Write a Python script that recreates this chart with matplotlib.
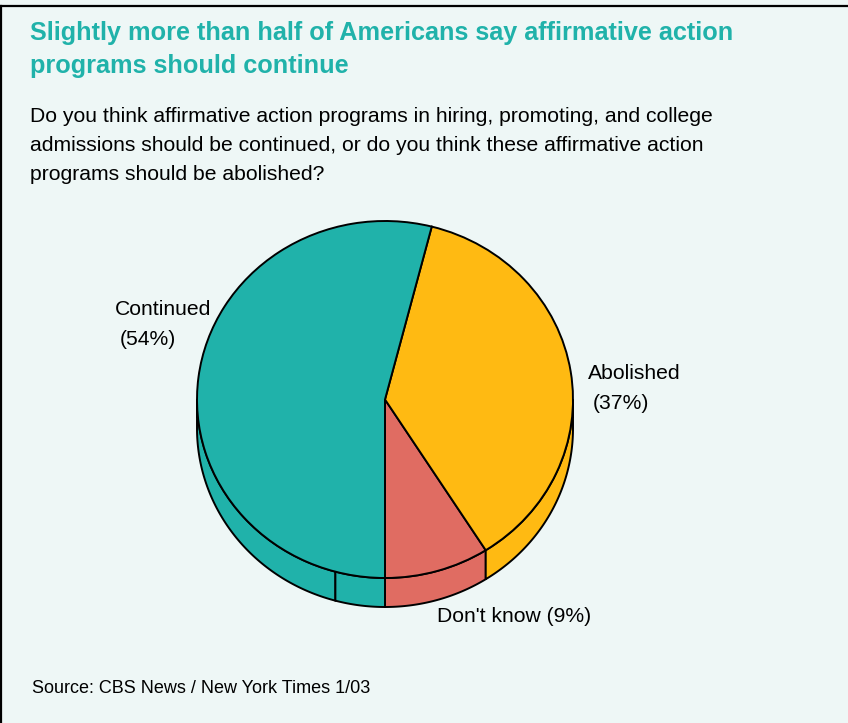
import numpy as np
import matplotlib
matplotlib.use("Agg")
import matplotlib.pyplot as plt

plt.rcParams['font.family'] = ['Liberation Sans', 'DejaVu Sans']

# data
labels = ["Don't know", "Abolished", "Continued"]
values = [9, 37, 54]
colors = ["#E06C62", "#FFBA12", "#20B2AA"]

title = "Slightly more than half of Americans say affirmative action\nprograms should continue"
question = ["Do you think affirmative action programs in hiring, promoting, and college",
            "admissions should be continued, or do you think these affirmative action",
            "programs should be abolished?"]
source = "Source: CBS News / New York Times 1/03"

W, H = 848, 723
bg = "#EEF7F6"
teal = "#20B2AA"

fig = plt.figure(figsize=(W / 100, H / 100), dpi=100, facecolor=bg)

# background / text layer in pixel coords
ax_bg = fig.add_axes([0, 0, 1, 1])
ax_bg.set_xlim(0, W)
ax_bg.set_ylim(H, 0)
ax_bg.axis("off")
ax_bg.plot([0, W], [6, 6], color="black", lw=1.6)
ax_bg.plot([1, 1], [6, H], color="black", lw=1.6)

t1, t2 = title.split("\n")
ax_bg.text(30, 40, t1, color=teal, fontsize=18.2, fontweight="bold", va="baseline")
ax_bg.text(30, 73, t2, color=teal, fontsize=18.2, fontweight="bold", va="baseline")
for i, line in enumerate(question):
    ax_bg.text(30, 122 + 29 * i, line, fontsize=15.2, va="baseline")
ax_bg.text(32, 693, source, fontsize=13, va="baseline")

# pie axes: ellipse center (385, 399.5), rx 188, ry 178.5 px
cx, cy, rx, ry = 385, 399.5, 188, 178.5
xl, yl = (-1.05, 1.05), (-1.25, 1.05)
left = cx + xl[0] * rx
width = (xl[1] - xl[0]) * rx
top = cy - yl[1] * ry
height = (yl[1] - yl[0]) * ry
ax = fig.add_axes([left / W, (H - top - height) / H, width / W, height / H])
ax.patch.set_alpha(0)

depth = 29 / ry
start = 270
wall_split = 254.7  # the reference draws the left wall in two pieces

# side walls (front half only, 180..360 deg)
a0 = start
edges = []
for v, c in zip(values, colors):
    a1 = a0 + v / sum(values) * 360
    edges.append((a0, a1, c))
    a0 = a1
for a0, a1, c in edges:
    # clip each slice to the visible front (180..360)
    pieces = []
    for off in (0, -360):
        lo, hi = max(a0 + off, 180), min(a1 + off, 360)
        if hi > lo:
            pieces.append((lo, hi))
    for lo, hi in pieces:
        cuts = [lo] + [s for s in [wall_split] if lo < s < hi] + [hi]
        for p, q in zip(cuts[:-1], cuts[1:]):
            t = np.radians(np.linspace(p, q, 80))
            xs = np.concatenate([np.cos(t), np.cos(t[::-1])])
            ys = np.concatenate([np.sin(t), np.sin(t[::-1]) - depth])
            ax.fill(xs, ys, facecolor=c, edgecolor="black", lw=1.4, zorder=1)

ax.pie(values, colors=colors, startangle=start, counterclock=True,
       wedgeprops=dict(edgecolor="black", linewidth=1.4, zorder=2))
ax.set_aspect("auto")
ax.set_xlim(*xl)
ax.set_ylim(*yl)
ax.axis("off")

# labels
ax_bg.text(115, 315, "Continued", fontsize=15.2, va="baseline")
ax_bg.text(120, 345, "(54%)", fontsize=15.2, va="baseline")
ax_bg.text(588, 379, "Abolished", fontsize=15.2, va="baseline")
ax_bg.text(593, 409, "(37%)", fontsize=15.2, va="baseline")
ax_bg.text(437, 622, "Don't know (9%)", fontsize=15.2, va="baseline")

fig.savefig("out.png", dpi=100, facecolor=bg)
